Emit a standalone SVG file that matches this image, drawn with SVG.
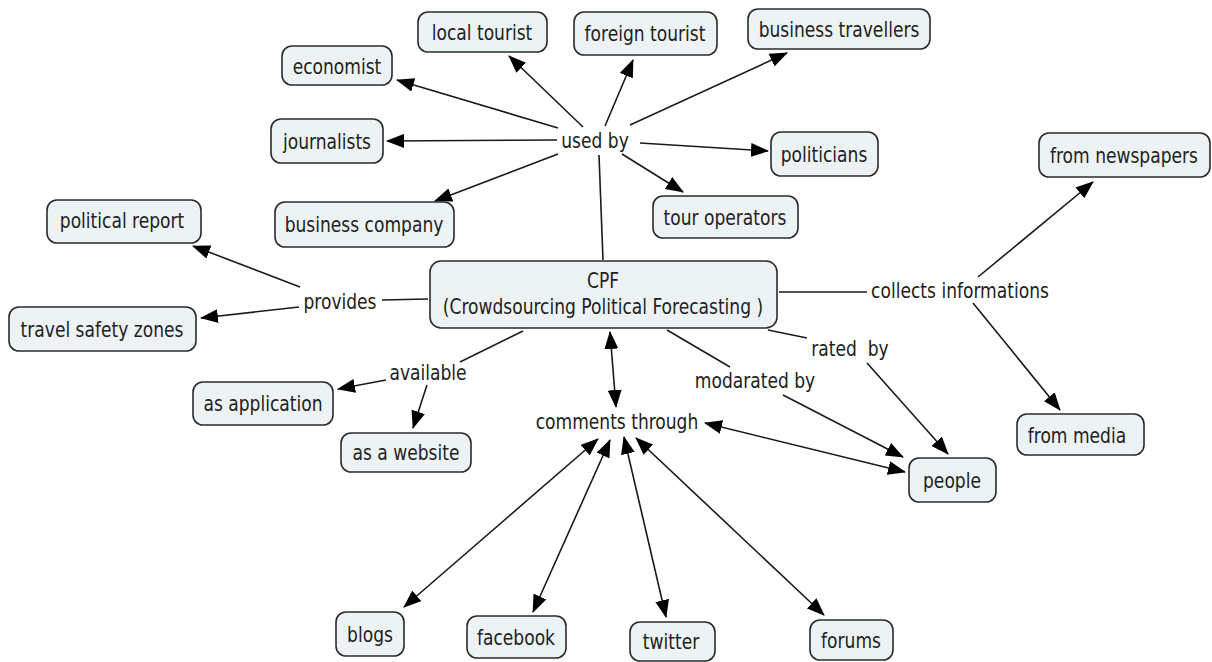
<svg xmlns="http://www.w3.org/2000/svg" width="1212" height="662" viewBox="0 0 1212 662">
<style>
.n rect{fill:#edf3f5;stroke:#2b2b2b;stroke-width:1.6}
text{font-family:"DejaVu Sans Condensed","DejaVu Sans","Liberation Sans",sans-serif;font-stretch:condensed;font-size:19px;fill:#222;text-anchor:middle;transform-box:fill-box;transform-origin:center;transform:scaleY(1.13)}
.c line{stroke:#1a1a1a;stroke-width:1.6;fill:none}
.a{marker-end:url(#ah)}
.d{marker-end:url(#ah);marker-start:url(#ah)}
</style>
<defs>
<marker id="ah" viewBox="0 0 18 14" markerUnits="userSpaceOnUse" markerWidth="18" markerHeight="14" refX="17" refY="7" orient="auto-start-reverse">
<path d="M0,0 L18,7 L0,14 Z" fill="#000"/>
</marker>
</defs>
<rect width="1212" height="662" fill="#fff"/>
<g class="c" id="connectors">
<line x1="603" y1="260" x2="599" y2="155"/>
<line class="a" x1="558" y1="128" x2="397" y2="80"/>
<line class="a" x1="583" y1="127" x2="509" y2="56"/>
<line class="a" x1="605" y1="126" x2="633" y2="60"/>
<line class="a" x1="630" y1="125" x2="787" y2="53"/>
<line class="a" x1="557" y1="140" x2="387" y2="141"/>
<line class="a" x1="640" y1="143" x2="768" y2="151"/>
<line class="a" x1="622" y1="154" x2="683" y2="192"/>
<line class="a" x1="558" y1="154" x2="435" y2="201"/>
<line x1="428" y1="299" x2="382" y2="300"/>
<line class="a" x1="300" y1="287" x2="193" y2="246"/>
<line class="a" x1="299" y1="307" x2="201" y2="318"/>
<line x1="523" y1="331" x2="460" y2="362"/>
<line class="a" x1="386" y1="380" x2="338" y2="389"/>
<line class="a" x1="427" y1="385" x2="413" y2="428"/>
<line class="d" x1="610" y1="332" x2="616" y2="407"/>
<line x1="667" y1="330" x2="730" y2="367"/>
<line class="a" x1="783" y1="395" x2="903" y2="457"/>
<line x1="768" y1="330" x2="807" y2="338"/>
<line class="a" x1="867" y1="363" x2="948" y2="454"/>
<line class="d" x1="705" y1="423" x2="905" y2="472"/>
<line x1="779" y1="292" x2="867" y2="292"/>
<line class="a" x1="978" y1="277" x2="1093" y2="182"/>
<line class="a" x1="973" y1="303" x2="1060" y2="410"/>
<line class="d" x1="598" y1="439" x2="404" y2="607"/>
<line class="d" x1="610" y1="440" x2="533" y2="612"/>
<line class="d" x1="624" y1="437" x2="666" y2="617"/>
<line class="d" x1="636" y1="438" x2="824" y2="615"/>
</g>
<g id="labels">
<text id="l-usedby" x="595" y="147">used by</text>
<text id="l-provides" x="340" y="308">provides</text>
<text id="l-available" x="428" y="379">available</text>
<text id="l-comments" x="617" y="428">comments through</text>
<text id="l-modarated" x="755" y="387">modarated by</text>
<text id="l-rated" x="850" y="355" xml:space="preserve">rated  by</text>
<text id="l-collects" x="960" y="297">collects informations</text>
</g>
<g class="n" id="cpf"><rect x="430" y="261" width="347" height="67" rx="11"/><text x="603" y="287">CPF</text><text x="603" y="313">(Crowdsourcing Political Forecasting )</text></g>
<g class="n" id="local-tourist"><rect x="418" y="12" width="129" height="40" rx="10"/><text x="482" y="39">local tourist</text></g>
<g class="n" id="foreign-tourist"><rect x="574" y="12" width="143" height="43" rx="10"/><text x="645" y="40">foreign tourist</text></g>
<g class="n" id="business-travellers"><rect x="748" y="9" width="182" height="40" rx="10"/><text x="839" y="36">business travellers</text></g>
<g class="n" id="economist"><rect x="282" y="46" width="110" height="39" rx="10"/><text x="337" y="73">economist</text></g>
<g class="n" id="journalists"><rect x="271" y="119" width="112" height="44" rx="10"/><text x="327" y="148">journalists</text></g>
<g class="n" id="politicians"><rect x="771" y="132" width="107" height="44" rx="10"/><text x="824" y="161">politicians</text></g>
<g class="n" id="tour-operators"><rect x="653" y="196" width="145" height="42" rx="10"/><text x="725" y="224">tour operators</text></g>
<g class="n" id="business-company"><rect x="275" y="202" width="179" height="45" rx="10"/><text x="364" y="231">business company</text></g>
<g class="n" id="political-report"><rect x="47" y="200" width="154" height="43" rx="10"/><text x="122" y="227">political report</text></g>
<g class="n" id="travel-safety"><rect x="9" y="307" width="187" height="44" rx="10"/><text x="102" y="336">travel safety zones</text></g>
<g class="n" id="as-application"><rect x="193" y="382" width="140" height="43" rx="10"/><text x="263" y="410">as application</text></g>
<g class="n" id="as-website"><rect x="341" y="433" width="130" height="39" rx="10"/><text x="406" y="459">as a website</text></g>
<g class="n" id="people"><rect x="909" y="458" width="87" height="44" rx="10"/><text x="952" y="487">people</text></g>
<g class="n" id="from-newspapers"><rect x="1039" y="133" width="171" height="44" rx="10"/><text x="1124" y="162">from newspapers</text></g>
<g class="n" id="from-media"><rect x="1017" y="414" width="127" height="41" rx="10"/><text x="1077" y="442">from media</text></g>
<g class="n" id="blogs"><rect x="336" y="612" width="68" height="44" rx="10"/><text x="370" y="641">blogs</text></g>
<g class="n" id="facebook"><rect x="467" y="616" width="99" height="42" rx="10"/><text x="516" y="644">facebook</text></g>
<g class="n" id="twitter"><rect x="630" y="622" width="85" height="39" rx="10"/><text x="671" y="648">twitter</text></g>
<g class="n" id="forums"><rect x="810" y="620" width="83" height="40" rx="10"/><text x="851" y="647">forums</text></g>
</svg>
